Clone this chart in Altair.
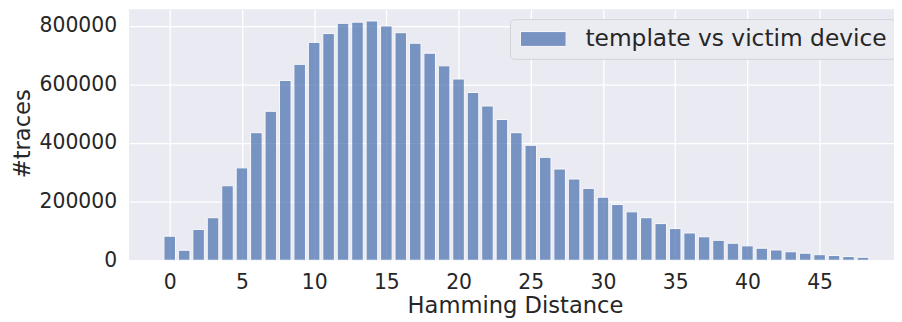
import altair as alt
import pandas as pd

distances = list(range(49))
counts = [82000, 34000, 105000, 145000, 254000, 315000, 435000, 508000, 613000, 668000,
          743000, 773000, 808000, 812000, 816000, 799000, 776000, 740000, 706000, 663000,
          618000, 572000, 526000, 480000, 435000, 392000, 351000, 311000, 277000, 245000,
          215000, 190000, 165000, 145000, 125000, 108000, 93000, 80000, 68000, 58000,
          49000, 41000, 35000, 29000, 24000, 19000, 16000, 12500, 10000]
series_name = "template vs victim device"
x_ticks = [0, 5, 10, 15, 20, 25, 30, 35, 40, 45]
y_ticks = [0, 200000, 400000, 600000, 800000]

df = pd.DataFrame({"hd": distances, "count": counts, "series": [series_name] * len(distances)})

FONT = "DejaVu Sans"
TXT = "#262626"

chart = (
    alt.Chart(df)
    .transform_calculate(x0="datum.hd - 0.4", x1="datum.hd + 0.4")
    .mark_bar(color="#4c72b0", opacity=0.72, stroke="white", strokeWidth=1,
              orient="vertical")
    .encode(
        x=alt.X("x0:Q",
                scale=alt.Scale(domain=[-2.817, 50.15], nice=False, zero=False, padding=0),
                axis=alt.Axis(values=x_ticks, title="Hamming Distance", grid=True,
                              labelPadding=12, titleX=389, titleY=53,
                              titleBaseline="alphabetic")),
        x2="x1:Q",
        y=alt.Y("count:Q",
                scale=alt.Scale(domain=[0, 856000], nice=False, padding=0),
                axis=alt.Axis(values=y_ticks, format="d", title="#traces", grid=True,
                              labelPadding=12.5, titleX=-100.7, titleY=125,
                              titleBaseline="alphabetic")),
        y2=alt.datum(0),
        color=alt.Color("series:N", scale=alt.Scale(range=["#4c72b0"]),
                        legend=alt.Legend(
                            title=None, orient="none", legendX=384, legendY=10,
                            padding=8, cornerRadius=4,
                            fillColor="#ebebf2", strokeColor="#d2d2da",
                            symbolType="M-0.826,-0.65H3.174V0.65H-0.826Z", symbolSize=529,
                            symbolOpacity=0.72, symbolStrokeColor="white",
                            symbolStrokeWidth=1,
                            labelOffset=44, labelFontSize=23.5, labelFont=FONT,
                            labelColor=TXT, labelLimit=500)),
    )
    .properties(
        width=771, height=253,
        autosize=alt.AutoSizeParams(type="none"),
        padding={"left": 122, "top": 0, "right": 0, "bottom": 60},
    )
    .configure_view(fill="#eaeaf2", stroke=None)
    .configure_axis(
        domain=False, ticks=False, tickSize=0,
        gridColor="white", gridWidth=1.3,
        labelFont=FONT, labelFontSize=20.5, labelColor=TXT,
        titleFont=FONT, titleFontSize=22.8, titleColor=TXT, titleFontWeight="normal",
    )
)

chart.save("out.html", embed_options={"renderer": "svg", "actions": False})
